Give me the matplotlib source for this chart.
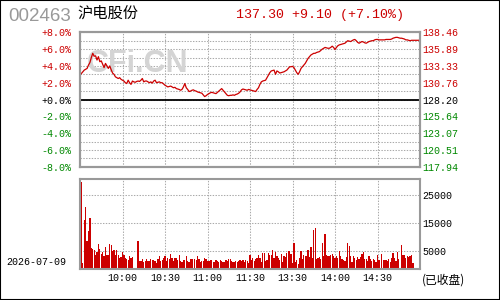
import numpy as np
import matplotlib
matplotlib.use("Agg")
import matplotlib.pyplot as plt
from matplotlib.patches import Rectangle

# ---------------- data ----------------
stock_code = "002463"
stock_name = "沪电股份"
trade_date = "2026-07-09"
status_text = "(已收盘)"
watermark = "CFi.CN"
prev_close = 128.20
time_labels = ["10:00", "10:30", "11:00", "11:30", "13:30", "14:00", "14:30"]
time_label_idx = [30, 60, 90, 120, 150, 180, 210]
pct_ticks = [8, 6, 4, 2, 0, -2, -4, -6, -8]
vol_ticks = [5000, 15000, 25000]

# percent change vs previous close, one value per minute (241 minutes)
price_pct = [
    2.9, 3.1, 3.3, 3.5, 3.6, 3.7, 4.1, 4.4, 5.0, 5.5,
    5.15, 5.2, 4.7, 5.1, 4.5, 4.6, 4.2, 3.8, 4.3, 4.0,
    3.7, 4.0, 3.55, 3.15, 3.0, 2.7, 2.6, 2.5, 2.6, 2.4,
    2.3, 2.2, 2.0, 1.9, 2.3, 2.0, 1.8, 2.2, 2.1, 2.05,
    2.15, 2.2, 2.15, 2.3, 2.5, 2.1, 2.2, 2.2, 2.1, 2.0,
    2.1, 1.95, 2.2, 2.3, 2.0, 2.05, 2.1, 2.0, 2.0, 1.85,
    1.7, 1.6, 1.5, 1.55, 1.6, 1.5, 1.4, 1.45, 1.3, 1.25,
    1.2, 1.1, 1.2, 1.5, 1.9, 1.4, 1.2, 0.95, 1.0, 1.1,
    1.15, 1.05, 1.0, 0.9, 0.85, 0.8, 0.75, 0.55, 0.35, 0.45,
    0.6, 0.7, 0.8, 0.85, 0.8, 0.75, 0.7, 0.85, 1.0, 1.15,
    1.3, 1.1, 0.9, 0.7, 0.5, 0.45, 0.5, 0.5, 0.55, 0.5,
    0.6, 0.65, 0.75, 0.9, 1.15, 1.25, 1.2, 1.15, 1.1, 1.2,
    1.15, 1.1, 1.05, 1.0, 0.95, 1.2, 1.4, 1.8, 2.1, 2.2,
    2.25, 2.3, 2.6, 2.9, 3.2, 3.4, 3.45, 3.5, 3.0, 3.4,
    3.3, 3.15, 3.2, 3.25, 3.3, 3.4, 3.5, 3.7, 3.9, 3.9,
    3.95, 3.8, 3.5, 3.2, 3.0, 3.3, 3.7, 3.9, 4.1, 4.3,
    4.6, 4.9, 5.1, 5.3, 5.4, 5.5, 5.5, 5.6, 5.65, 5.7,
    5.85, 6.0, 6.1, 6.2, 6.15, 6.1, 6.1, 6.2, 6.35, 6.2,
    5.95, 6.2, 6.4, 6.5, 6.55, 6.6, 6.65, 6.7, 6.85, 7.0,
    6.95, 6.9, 7.0, 7.1, 7.15, 7.0, 6.8, 6.7, 6.8, 6.9,
    6.85, 6.75, 6.7, 6.8, 6.9, 6.95, 7.0, 7.0, 7.1, 7.15,
    7.15, 7.1, 7.1, 7.1, 7.1, 7.1, 7.15, 7.15, 7.15, 7.15,
    7.2, 7.3, 7.35, 7.4, 7.4, 7.35, 7.3, 7.3, 7.25, 7.2,
    7.1, 7.1, 7.05, 7.0, 7.05, 7.05, 7.05, 7.05, 7.05, 7.05,
    7.10,
]

# volume per minute (241 minutes)
volume = [
    4900, 29900, 700, 16200, 20900, 8700, 12250, 16800, 6300, 5900,
    5450, 3600, 4800, 7500, 5700, 3900, 4800, 3200, 6500, 3600,
    3700, 7600, 7100, 5100, 5450, 3700, 5450, 3600, 2700, 3000,
    4800, 3600, 2700, 2400, 1900, 3300, 2600, 3100, 0, 0,
    0, 8700, 1500, 1500, 2100, 1200, 1500, 2100, 1500, 1500,
    2100, 1900, 1900, 1500, 950, 2100, 3300, 1500, 1900, 2500,
    3300, 1500, 2500, 2200, 4000, 2600, 1500, 2600, 2600, 1900,
    3600, 1500, 1100, 1900, 1900, 3300, 1500, 1100, 2300, 2300,
    0, 2300, 1900, 3300, 2200, 1100, 1500, 1500, 2600, 2100,
    1500, 1500, 2000, 2000, 1100, 1100, 2000, 1500, 1100, 1900,
    1500, 1100, 1100, 1900, 1500, 2400, 2100, 1500, 1100, 1100,
    1500, 1300, 1500, 1900, 1600, 1900, 1100, 1900, 1500, 800,
    3600, 2000, 2500, 1500, 2100, 2500, 3600, 2500, 1200, 4250,
    4500, 1500, 1900, 4500, 3600, 3600, 5500, 2500, 4800, 3300,
    2500, 2000, 4000, 1200, 3300, 2800, 4500, 5200, 5200, 4000,
    900, 8000, 1200, 1900, 600, 2500, 5200, 2100, 3600, 3300,
    3300, 5500, 3000, 6550, 2500, 12600, 13300, 2100, 2500, 3000,
    2100, 7950, 3300, 11200, 3600, 3300, 3300, 3600, 4000, 3300,
    2500, 3300, 2500, 5200, 3300, 2100, 1900, 1500, 3000, 7950,
    6950, 3300, 1200, 3300, 2500, 1900, 3000, 2100, 3000, 4000,
    4800, 2100, 2100, 1500, 3300, 2100, 1500, 2100, 1900, 1200,
    3600, 1900, 0, 4000, 1900, 1900, 1900, 1500, 2100, 1200,
    2500, 4300, 2500, 1500, 4800, 2100, 0, 7400, 3600, 3600,
    2500, 3300, 3000, 3300, 3600, 800, 0, 0, 0, 0,
    6900,
]

# ---------------- style ----------------
RED = "#cc0000"
GREEN = "#008800"
SPINE = "#999999"
GRID = "#aaaaaa"
MONO = ["Liberation Mono", "DejaVu Sans Mono"]
CJK = ["Noto Sans CJK SC", "DejaVu Sans"]

plt.rcParams["font.family"] = MONO

fig = plt.figure(figsize=(5, 3), dpi=100)
fig.patch.set_facecolor("white")

ax = fig.add_axes([0.16, 0.4443, 0.68, 0.448])
axv = fig.add_axes([0.16, 0.1023, 0.68, 0.302])

minutes = np.arange(len(price_pct))
n_min = len(price_pct) - 1
dash = (0, (1.35, 1.35))


def style_spines(a):
    for s in a.spines.values():
        s.set_color(SPINE)
        s.set_linewidth(1.5)
        s.set_zorder(5)


def tick_color(p):
    if p > 0:
        return RED
    if p < 0:
        return GREEN
    return "black"


# ---- price panel ----
ax.set_xlim(0, n_min)
ax.set_ylim(-8, 8)
ax.set_yticks(pct_ticks)
ax.set_yticks(np.arange(-8, 9, 1), minor=True)
ax.set_yticklabels([f"{p:+.1f}%" for p in pct_ticks])
for lbl, p in zip(ax.get_yticklabels(), pct_ticks):
    lbl.set_color(tick_color(p))
ax.set_xticks(time_label_idx)
ax.set_xticklabels([])
ax.tick_params(axis="both", which="both", length=0, labelsize=7.2)
ax.tick_params(axis="y", pad=6)
ax.grid(True, which="both", axis="y", color=GRID, lw=0.75, ls=dash)
ax.grid(True, which="major", axis="x", color=GRID, lw=0.75, ls=dash)
ax.axhline(0, color="black", lw=1.3, zorder=3)
ax.plot(minutes, price_pct, color=RED, lw=0.9, zorder=4)
ax.text(0.276, 0.787, watermark, transform=fig.transFigure, ha="center", va="center",
        fontsize=22, fontweight="bold", family=["Liberation Sans", "DejaVu Sans"],
        color="#d4d4d4", zorder=1.6)
style_spines(ax)

ax2 = ax.twinx()
ax2.set_ylim(-8, 8)
ax2.set_yticks(pct_ticks)
ax2.set_yticklabels([f"{prev_close * (1 + p / 100):.2f}" for p in pct_ticks])
for lbl, p in zip(ax2.get_yticklabels(), pct_ticks):
    lbl.set_color(tick_color(p))
ax2.tick_params(axis="y", length=0, labelsize=7.2, pad=1.5)
style_spines(ax2)

# ---- volume panel ----
vol_lo, vol_hi = -1430, 30930
axv.set_xlim(0, n_min)
axv.set_ylim(vol_lo, vol_hi)
vol = np.array(volume, dtype=float)
vm = np.arange(len(vol))
mask = vol > 0
axv.bar(vm[mask], vol[mask] - vol_lo, bottom=vol_lo, width=0.85, color=RED,
        linewidth=0, antialiased=False, zorder=3)
axv.set_xticks(time_label_idx)
axv.set_xticklabels(time_labels)
axv.set_yticks(vol_ticks)
axv.set_yticklabels([str(v) for v in vol_ticks])
axv.yaxis.tick_right()
axv.tick_params(axis="both", length=0, labelsize=7.2)
axv.tick_params(axis="y", pad=2)
axv.tick_params(axis="x", pad=2.5)
axv.grid(True, axis="both", color=GRID, lw=0.75, ls=dash)
style_spines(axv)

# ---- header / footer texts ----
last_pct = price_pct[-1]
last_price = prev_close * (1 + last_pct / 100)
change = last_price - prev_close
fig.text(8 / 500, 1 - 16.5 / 300, stock_code, ha="left", va="center", fontsize=13.5,
         family=["Liberation Sans", "DejaVu Sans"], color="#999999")
fig.text(77 / 500, 1 - 13.5 / 300, stock_name, ha="left", va="center", fontsize=11,
         family=CJK, color="black")
fig.text(236 / 500, 1 - 15 / 300, f"{last_price:.2f} {change:+.2f} ({last_pct:+.2f}%)",
         ha="left", va="center", fontsize=9.6, family=MONO, color=RED)
fig.text(6 / 500, 1 - 262 / 300, trade_date, ha="left", va="center", fontsize=7.2,
         family=MONO, color="black")
fig.text(422 / 500, 1 - 280.5 / 300, status_text, ha="left", va="center", fontsize=8.5,
         family=CJK, color="black")

fig.patches.append(Rectangle((0, 0), 1, 1, transform=fig.transFigure, fill=False,
                             edgecolor="black", linewidth=1.5, zorder=10))

fig.savefig("out.png", dpi=100, facecolor="white")
